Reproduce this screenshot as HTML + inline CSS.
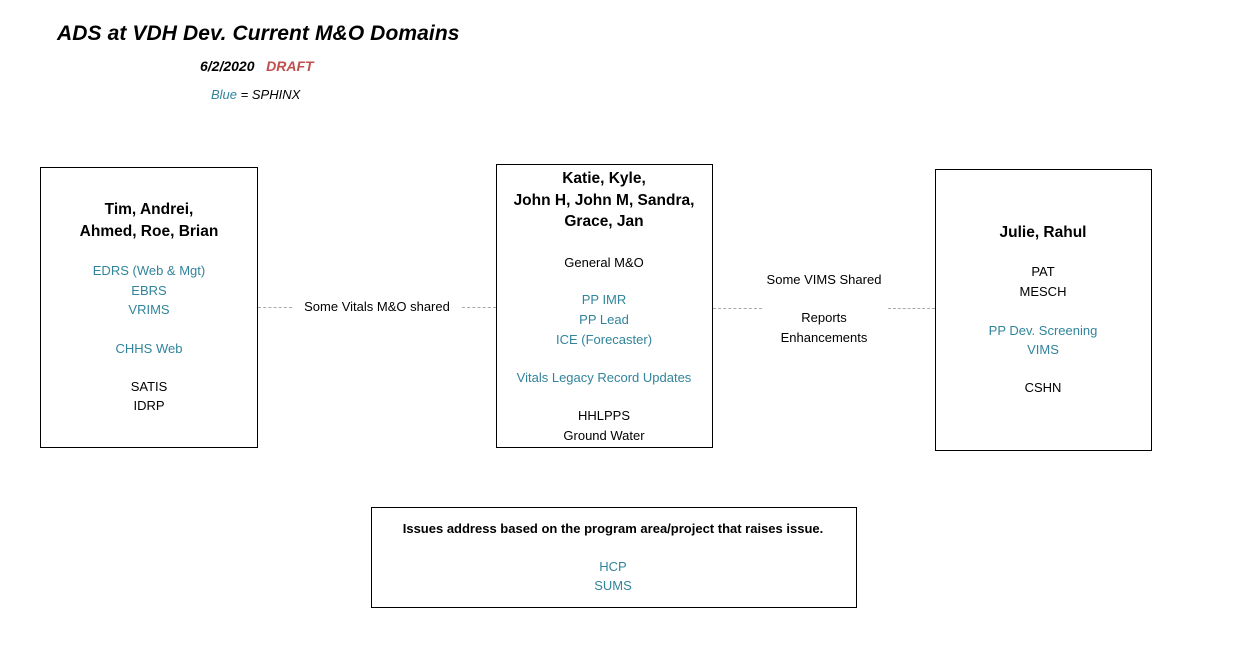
<!DOCTYPE html>
<html><head><meta charset="utf-8"><style>
body{margin:0;width:1233px;height:649px;background:#fff;position:relative;overflow:hidden;font-family:"Liberation Sans",sans-serif;color:#000}
.b{position:absolute;border:1px solid #000;box-sizing:border-box}
.t{position:absolute;width:400px;text-align:center;font-size:13px;line-height:18px;white-space:nowrap}
.h{font-weight:bold;font-size:15.5px}
.c{color:#31849B}
.d{position:absolute;height:0;border-top:1px dashed #aaa}
</style></head><body>
<div style="position:absolute;left:57px;top:22px;font-size:21px;font-weight:bold;font-style:italic;white-space:nowrap;letter-spacing:0.1px">ADS at VDH Dev. Current M&amp;O Domains</div>
<div style="position:absolute;left:200px;top:58px;font-size:14px;font-weight:bold;font-style:italic;white-space:nowrap">6/2/2020 &nbsp;&nbsp;<span style="color:#C0504D">DRAFT</span></div>
<div style="position:absolute;left:211px;top:87px;font-size:13px;font-style:italic;white-space:nowrap"><span class="c">Blue</span> = SPHINX</div>

<div class="b" style="left:40px;top:167px;width:218px;height:281px"></div>
<div class="b" style="left:496px;top:164px;width:217px;height:284px"></div>
<div class="b" style="left:935px;top:169px;width:217px;height:282px"></div>
<div class="b" style="left:371px;top:507px;width:486px;height:101px"></div>

<div class="d" style="left:258px;top:307px;width:34px"></div>
<div class="d" style="left:462px;top:307px;width:34px"></div>
<div class="d" style="left:713px;top:308px;width:49px"></div>
<div class="d" style="left:888px;top:308px;width:47px"></div>

<div class="t h" style="left:-51px;top:201px">Tim, Andrei,</div>
<div class="t h" style="left:-51px;top:223px">Ahmed, Roe, Brian</div>
<div class="t c" style="left:-51px;top:262px">EDRS (Web &amp; Mgt)</div>
<div class="t c" style="left:-51px;top:282px">EBRS</div>
<div class="t c" style="left:-51px;top:301px">VRIMS</div>
<div class="t c" style="left:-51px;top:340px">CHHS Web</div>
<div class="t" style="left:-51px;top:378px">SATIS</div>
<div class="t" style="left:-51px;top:397px">IDRP</div>

<div class="t" style="left:177px;top:298px">Some Vitals M&amp;O shared</div>

<div class="t h" style="left:404px;top:170px">Katie, Kyle,</div>
<div class="t h" style="left:404px;top:192px">John H, John M, Sandra,</div>
<div class="t h" style="left:404px;top:213px">Grace, Jan</div>
<div class="t" style="left:404px;top:254px">General M&amp;O</div>
<div class="t c" style="left:404px;top:291px">PP IMR</div>
<div class="t c" style="left:404px;top:311px">PP Lead</div>
<div class="t c" style="left:404px;top:331px">ICE (Forecaster)</div>
<div class="t c" style="left:404px;top:369px">Vitals Legacy Record Updates</div>
<div class="t" style="left:404px;top:407px">HHLPPS</div>
<div class="t" style="left:404px;top:427px">Ground Water</div>

<div class="t" style="left:624px;top:271px">Some VIMS Shared</div>
<div class="t" style="left:624px;top:309px">Reports</div>
<div class="t" style="left:624px;top:329px">Enhancements</div>

<div class="t h" style="left:843px;top:224px">Julie, Rahul</div>
<div class="t" style="left:843px;top:263px">PAT</div>
<div class="t" style="left:843px;top:283px">MESCH</div>
<div class="t c" style="left:843px;top:322px">PP Dev. Screening</div>
<div class="t c" style="left:843px;top:341px">VIMS</div>
<div class="t" style="left:843px;top:379px">CSHN</div>

<div class="t" style="left:313px;width:600px;top:520px;font-weight:bold;font-size:13px">Issues address based on the program area/project that raises issue.</div>
<div class="t c" style="left:413px;top:558px">HCP</div>
<div class="t c" style="left:413px;top:577px">SUMS</div>
</body></html>
